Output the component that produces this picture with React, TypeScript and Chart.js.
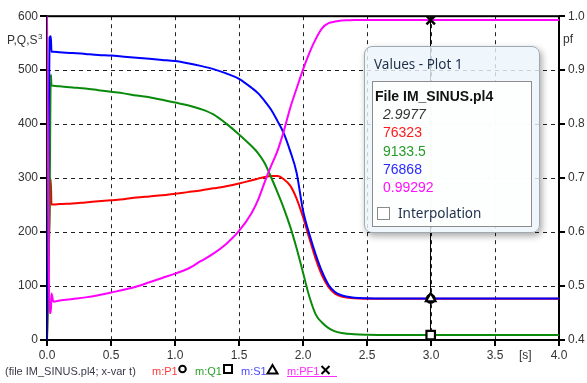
import React, { useEffect, useRef } from 'react';
import { Chart, registerables } from 'chart.js';

Chart.register(...registerables);

// ---- data ----
const times = [0, 0.02, 0.03, 0.035, 0.05, 0.1, 0.2, 0.3, 0.4, 0.5, 0.6, 0.7, 0.8, 0.9, 1.0, 1.1, 1.2, 1.3, 1.4, 1.5, 1.6, 1.65, 1.7, 1.75, 1.8, 1.85, 1.9, 1.95, 2.0, 2.05, 2.1, 2.15, 2.2, 2.25, 2.3, 2.35, 2.4, 2.5, 2.6, 2.8, 3.0, 3.5, 4.0];
const pValues = [0, 238, 297, 251, 251, 252, 253, 255, 257, 259, 261, 264, 266, 268, 271, 274, 277, 281, 285, 290, 296, 299, 302, 304, 304, 298, 286, 262, 228, 188, 150, 119, 98, 86, 80.5, 78.3, 77.3, 76.6, 76.4, 76.35, 76.32, 76.32, 76.32];
const qValues = [0, 240, 492, 472, 471, 470, 468, 466, 463, 460, 457, 453, 450, 445, 440, 435, 428, 418, 401, 381, 359, 346, 328, 302, 274, 244, 210, 170, 125, 80, 47, 32, 22, 16, 13, 11.5, 10.5, 9.7, 9.4, 9.2, 9.13, 9.13, 9.13];
const sValues = [0, 560, 563, 534, 534, 533, 532, 530, 528, 527, 525, 523, 521, 519, 517, 513, 508, 502, 494, 484, 467, 457, 443, 427, 406, 383, 350, 310, 240, 196, 158, 126, 102, 89, 83, 80, 78.3, 77.3, 77.0, 76.9, 76.87, 76.87, 76.87];
const pfValues = [1.0, 0.45, 0.45, 0.486, 0.471, 0.473, 0.476, 0.479, 0.483, 0.488, 0.493, 0.499, 0.507, 0.515, 0.523, 0.532, 0.546, 0.56, 0.578, 0.602, 0.636, 0.66, 0.692, 0.722, 0.75, 0.787, 0.83, 0.866, 0.901, 0.932, 0.958, 0.978, 0.987, 0.99, 0.992, 0.9925, 0.993, 0.993, 0.993, 0.993, 0.99292, 0.993, 0.993];

const cursorTime = 2.9977;
const cursorP = 76.323;
const cursorQ = 9.1335;
const cursorS = 76.868;
const cursorPF = 0.99292;
const readoutLabels = ['2.9977', '76323', '9133.5', '76868', '0.99292'];
const readoutColors = ['#333333', '#ff1a1a', '#2a9a2a', '#2a2aff', '#ff10ff'];

const xRange = [0, 4, 0.5];
const yRange = [0, 600, 100];
const pfRange = [0.4, 1.0, 0.1];

const legendNames = ['m:P1', 'm:Q1', 'm:S1', 'm:PF1'];
const legendColors = ['#ff3a3a', '#2aa02a', '#4a4aff', '#ff2aff'];
const lineColors = ['#ff0000', '#0a8a0a', '#0000ff', '#ff00ff'];

const FONT = '"Liberation Sans", Arial, sans-serif';

const toXY = (vals: number[]) => times.map((t, i) => ({ x: t, y: vals[i] }));

const decorPlugin = {
  id: 'decor',
  beforeDatasetsDraw(chart: any) {
    const { ctx, chartArea: a, scales } = chart;
    const x = scales.x, y = scales.y;
    ctx.save();
    // dashed grid
    ctx.strokeStyle = '#222';
    ctx.lineWidth = 1;
    ctx.setLineDash([4, 4]);
    x.ticks.forEach((t: any) => {
      if (t.value <= x.min || t.value >= x.max) return;
      const px = Math.round(x.getPixelForValue(t.value)) + 0.5;
      ctx.beginPath(); ctx.moveTo(px, a.top); ctx.lineTo(px, a.bottom); ctx.stroke();
    });
    y.ticks.forEach((t: any) => {
      if (t.value <= y.min || t.value >= y.max) return;
      const py = Math.round(y.getPixelForValue(t.value)) + 0.5;
      ctx.beginPath(); ctx.moveTo(a.left, py); ctx.lineTo(a.right, py); ctx.stroke();
    });
    ctx.setLineDash([]);
    // frame
    ctx.strokeStyle = '#000';
    ctx.lineWidth = 2;
    ctx.strokeRect(a.left, a.top, a.right - a.left, a.bottom - a.top);
    // cursor line
    const cx = Math.round(x.getPixelForValue(cursorTime)) - 0.5;
    ctx.lineWidth = 1;
    ctx.beginPath(); ctx.moveTo(cx, a.top); ctx.lineTo(cx, a.bottom); ctx.stroke();
    ctx.restore();
  },
  afterDraw(chart: any) {
    const { ctx, chartArea: a, scales } = chart;
    const x = scales.x, y = scales.y, y1 = scales.y1;
    ctx.save();
    ctx.strokeStyle = '#000';
    ctx.lineWidth = 2;
    y.ticks.forEach((t: any) => {
      const py = Math.round(y.getPixelForValue(t.value));
      ctx.beginPath(); ctx.moveTo(a.left - 7, py); ctx.lineTo(a.left, py); ctx.stroke();
    });
    y1.ticks.forEach((t: any) => {
      const py = Math.round(y1.getPixelForValue(t.value));
      ctx.beginPath(); ctx.moveTo(a.right, py); ctx.lineTo(a.right + 6, py); ctx.stroke();
    });
    x.ticks.forEach((t: any) => {
      const px = Math.round(x.getPixelForValue(t.value));
      ctx.beginPath(); ctx.moveTo(px, a.bottom); ctx.lineTo(px, a.bottom + 6); ctx.stroke();
    });
    // axis titles
    ctx.fillStyle = '#333';
    ctx.textBaseline = 'alphabetic';
    ctx.textAlign = 'left';
    ctx.font = `12px ${FONT}`;
    ctx.fillText('P,Q,S', 7, 44);
    const wPQS = ctx.measureText('P,Q,S').width;
    ctx.fillText('pf', 563, 43);
    ctx.font = `8px ${FONT}`;
    ctx.fillText('3', 7 + wPQS + 0.5, 39);
    ctx.font = `12px ${FONT}`;
    ctx.fillText('[s]', 519, 359);
    // bottom legend
    ctx.font = `11px ${FONT}`;
    ctx.fillStyle = '#3a3a4a';
    ctx.fillText('(file IM_SINUS.pl4; x-var t)', 5, 375);
    const lx = [152, 195, 241, 287];
    legendNames.forEach((n, i) => {
      ctx.fillStyle = legendColors[i];
      ctx.fillText(n, lx[i], 375);
    });
    ctx.strokeStyle = legendColors[3];
    ctx.lineWidth = 1;
    ctx.beginPath(); ctx.moveTo(287, 376.5); ctx.lineTo(337, 376.5); ctx.stroke();
    ctx.strokeStyle = '#000';
    ctx.lineWidth = 2;
    // circle
    ctx.beginPath(); ctx.arc(182.5, 369, 3.3, 0, Math.PI * 2); ctx.stroke();
    // square
    ctx.strokeRect(224, 365, 8, 8);
    // triangle
    ctx.beginPath(); ctx.moveTo(272.5, 365); ctx.lineTo(277.5, 373.5); ctx.lineTo(267.5, 373.5); ctx.closePath(); ctx.stroke();
    // cross
    ctx.beginPath(); ctx.moveTo(321.5, 366); ctx.lineTo(329.5, 374); ctx.moveTo(329.5, 366); ctx.lineTo(321.5, 374); ctx.stroke();
    ctx.restore();
  },
};

export default function App() {
  const ref = useRef<HTMLCanvasElement | null>(null);
  useEffect(() => {
    if (!ref.current) return;
    const tickFont = { family: FONT, size: 12 };
    const markerBase = { type: 'line' as const, showLine: false, pointBackgroundColor: '#fff', pointBorderColor: '#000', pointBorderWidth: 2.2, order: -1 };
    const chart = new Chart(ref.current, {
      type: 'line',
      data: {
        datasets: [
          { ...markerBase, data: [{ x: cursorTime, y: cursorPF }], yAxisID: 'y1', pointStyle: 'crossRot', pointRadius: 6, pointBorderWidth: 2.5 },
          { ...markerBase, data: [{ x: cursorTime, y: cursorS }], yAxisID: 'y', pointStyle: 'triangle', pointRadius: 5.5 },
          { ...markerBase, data: [{ x: cursorTime, y: cursorP }], yAxisID: 'y', pointStyle: 'circle', pointRadius: 4 },
          { ...markerBase, data: [{ x: cursorTime, y: cursorQ }], yAxisID: 'y', pointStyle: 'rect', pointRadius: 6 },
          { label: 'PF', data: toXY(pfValues), yAxisID: 'y1', borderColor: lineColors[3], borderWidth: 2, pointRadius: 0, cubicInterpolationMode: 'monotone', order: 0 },
          { label: 'S', data: toXY(sValues), yAxisID: 'y', borderColor: lineColors[2], borderWidth: 2, pointRadius: 0, cubicInterpolationMode: 'monotone', order: 1 },
          { label: 'Q', data: toXY(qValues), yAxisID: 'y', borderColor: lineColors[1], borderWidth: 2, pointRadius: 0, cubicInterpolationMode: 'monotone', order: 2 },
          { label: 'P', data: toXY(pValues), yAxisID: 'y', borderColor: lineColors[0], borderWidth: 2, pointRadius: 0, cubicInterpolationMode: 'monotone', order: 3 },
        ] as any,
      },
      options: {
        responsive: false,
        animation: false,
        devicePixelRatio: 1,
        layout: { padding: { top: 13, left: 0, right: 0, bottom: 0 } },
        plugins: { legend: { display: false }, tooltip: { enabled: false } },
        scales: {
          x: {
            type: 'linear', min: xRange[0], max: xRange[1],
            ticks: { stepSize: xRange[2], callback: (v: any) => Number(v).toFixed(1), font: tickFont, color: '#333', padding: 8, maxRotation: 0, autoSkip: false },
            grid: { display: false, drawTicks: false }, border: { display: false },
            afterFit: (s: any) => { s.height = 43; },
          },
          y: {
            type: 'linear', position: 'left', min: yRange[0], max: yRange[1],
            ticks: { stepSize: yRange[2], font: tickFont, color: '#333', padding: 9 },
            grid: { display: false, drawTicks: false }, border: { display: false },
            afterFit: (s: any) => { s.width = 47; },
          },
          y1: {
            type: 'linear', position: 'right', min: pfRange[0], max: pfRange[1],
            ticks: { stepSize: pfRange[2], callback: (v: any) => Number(v).toFixed(1), font: tickFont, color: '#333', padding: 9 },
            grid: { display: false, drawTicks: false }, border: { display: false },
            afterFit: (s: any) => { s.width = 28; },
          },
        },
      } as any,
      plugins: [decorPlugin],
    });
    return () => chart.destroy();
  }, []);

  const lineStyle = (top: number, left: number, extra: any = {}) => ({
    position: 'absolute' as const, top, left, height: 18, lineHeight: '18px', whiteSpace: 'nowrap' as const, ...extra,
  });

  return (
    <div style={{ position: 'absolute', left: 0, top: 0, width: 587, height: 383, background: '#fff', overflow: 'hidden' }}>
      <canvas ref={ref} width={587} height={383} style={{ display: 'block', width: 587, height: 383 }} />
      <div style={{ position: 'absolute', left: 364, top: 46, width: 176, height: 187, boxSizing: 'border-box', borderRadius: 8, border: '1px solid #a0a8b0', background: 'rgba(236,245,251,0.82)', boxShadow: '2px 3px 7px rgba(0,0,0,0.35)' }}>
        <div style={lineStyle(8, 9, { fontFamily: '"Noto Sans", sans-serif', fontSize: 13.5, color: '#1e2f4a' })}>Values - Plot 1</div>
        <div style={{ position: 'absolute', left: 7, top: 34, width: 160, height: 146, boxSizing: 'border-box', border: '1px solid #8c8c8c', background: 'rgba(255,255,255,0.9)', fontFamily: FONT, fontSize: 14 }}>
          <div style={lineStyle(5, 2, { fontWeight: 'bold', color: '#111' })}>File IM_SINUS.pl4</div>
          {readoutLabels.map((s, i) => (
            <div key={i} style={lineStyle(23 + i * 18.3, 10, { color: readoutColors[i], fontStyle: i === 0 ? 'italic' : 'normal' })}>{s}</div>
          ))}
          <div style={{ position: 'absolute', left: 4, top: 125, width: 13, height: 13, boxSizing: 'border-box', border: '1px solid #8a8a8a', background: '#fff' }} />
          <div style={lineStyle(122, 25, { fontFamily: '"Noto Sans", sans-serif', fontSize: 13.5, color: '#1e2f4a' })}>Interpolation</div>
        </div>
      </div>
    </div>
  );
}
